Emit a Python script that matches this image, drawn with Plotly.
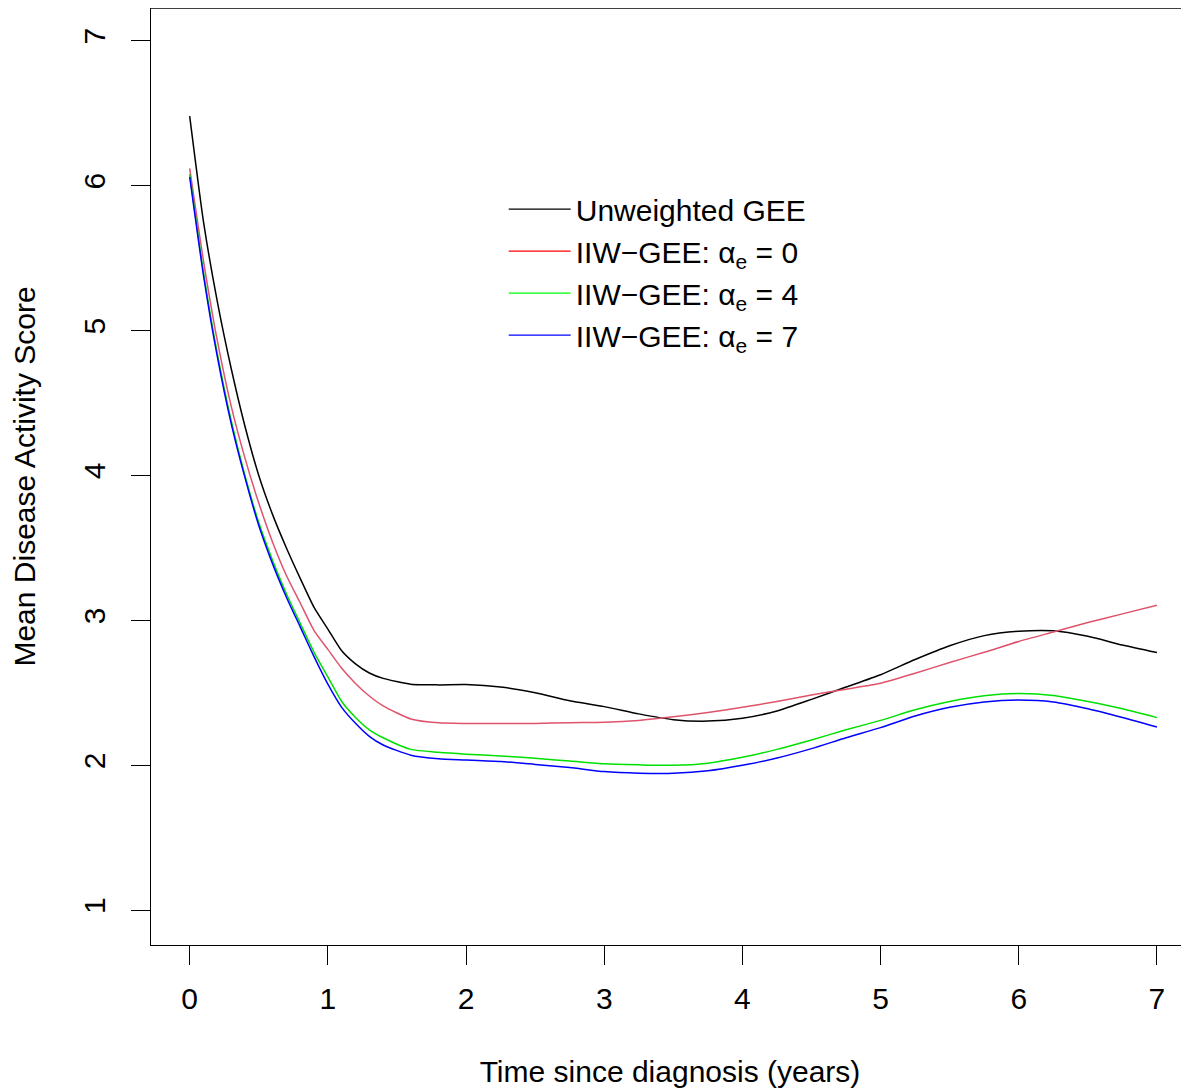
import plotly.graph_objects as go

# ---- data ----
time_years = [0, 0.1, 0.2, 0.3, 0.4, 0.5, 0.6, 0.7, 0.8, 0.9, 1.0, 1.1, 1.2, 1.3, 1.4, 1.6, 1.8,
              2.0, 2.25, 2.5, 2.75, 3.0, 3.25, 3.5, 3.75, 4.0, 4.25, 4.5, 4.75,
              5.0, 5.25, 5.5, 5.75, 6.0, 6.25, 6.5, 6.75, 7.0]

unweighted_gee = [6.48, 5.75, 5.20, 4.74, 4.34, 4.00, 3.73, 3.50, 3.29, 3.09, 2.94, 2.79, 2.70, 2.637, 2.60, 2.56, 2.555,
                  2.557, 2.54, 2.50, 2.445, 2.405, 2.355, 2.315, 2.305, 2.325, 2.375, 2.455, 2.54,
                  2.625, 2.73, 2.825, 2.895, 2.925, 2.928, 2.89, 2.83, 2.778]

iiw_alpha0 = [6.12, 5.48, 4.93, 4.48, 4.12, 3.81, 3.54, 3.31, 3.12, 2.93, 2.80, 2.67, 2.565, 2.478, 2.41, 2.32, 2.293,
              2.289, 2.289, 2.289, 2.294, 2.297, 2.31, 2.335, 2.365, 2.40, 2.44, 2.485, 2.525,
              2.566, 2.635, 2.71, 2.78, 2.855, 2.92, 2.985, 3.045, 3.104]

iiw_alpha4 = [6.08, 5.40, 4.84, 4.38, 4.00, 3.675, 3.414, 3.184, 2.98, 2.78, 2.61, 2.44, 2.33, 2.245, 2.19, 2.11, 2.09,
              2.077, 2.065, 2.048, 2.03, 2.01, 2.003, 2.0, 2.015, 2.055, 2.11, 2.175, 2.245,
              2.31, 2.383, 2.44, 2.48, 2.495, 2.482, 2.44, 2.39, 2.329]

iiw_alpha7 = [6.06, 5.38, 4.82, 4.36, 3.985, 3.655, 3.39, 3.16, 2.955, 2.75, 2.56, 2.40, 2.29, 2.20, 2.14, 2.07, 2.045,
              2.037, 2.026, 2.006, 1.985, 1.957, 1.946, 1.945, 1.962, 2.0, 2.05, 2.115, 2.19,
              2.26, 2.34, 2.40, 2.437, 2.45, 2.437, 2.39, 2.33, 2.264]

series_names = ["Unweighted GEE",
                "IIW\u2212GEE: \u03b1<sub>e</sub> = 0",
                "IIW\u2212GEE: \u03b1<sub>e</sub> = 4",
                "IIW\u2212GEE: \u03b1<sub>e</sub> = 7"]
series_values = [unweighted_gee, iiw_alpha0, iiw_alpha4, iiw_alpha7]
curve_colors = ["#000000", "#DF536B", "#00E000", "#0000FF"]
legend_colors = ["#000000", "#FF0000", "#00FF00", "#0000FF"]

x_ticks = [0, 1, 2, 3, 4, 5, 6, 7]
y_ticks = [1, 2, 3, 4, 5, 6, 7]

FONT = "Liberation Sans, Arial, Helvetica, sans-serif"

fig = go.Figure()
for name, vals, col in zip(series_names, series_values, curve_colors):
    fig.add_trace(go.Scatter(x=time_years, y=vals, mode="lines", name=name,
                             line=dict(color=col, width=1.5, shape="spline", smoothing=0.6),
                             showlegend=False, hoverinfo="x+y"))
# legend entries
for name, col in zip(series_names, legend_colors):
    fig.add_trace(go.Scatter(x=[None], y=[None], mode="lines", name=name,
                             line=dict(color=col, width=1.2), showlegend=True))

fig.update_layout(
    width=1181, height=1080,
    margin=dict(l=143, r=0, t=0, b=143),
    paper_bgcolor="white", plot_bgcolor="white",
    font=dict(family=FONT, size=30, color="black"),
    showlegend=True,
    legend=dict(x=0.3398, y=0.8132, xanchor="left", yanchor="top",
                bgcolor="rgba(0,0,0,0)", borderwidth=0, itemwidth=62,
                font=dict(family=FONT, size=30, color="black"),
                tracegroupgap=0),
    xaxis=dict(range=[-0.28, 7.232], tickvals=x_ticks, ticktext=[str(v) for v in x_ticks],
               showgrid=False, zeroline=False, showline=True, linecolor="black", linewidth=1.3,
               ticks="outside", ticklen=19, tickwidth=1.2, tickcolor="black",
               ticklabelstandoff=8,
               title=dict(text="Time since diagnosis (years)", standoff=53,
                          font=dict(family=FONT, size=30))),
    yaxis=dict(range=[0.76, 7.226], tickvals=y_ticks, ticktext=[str(v) for v in y_ticks],
               showgrid=False, zeroline=False, showline=True, linecolor="black", linewidth=1.3,
               ticks="outside", ticklen=19, tickwidth=1.2, tickcolor="black",
               tickangle=-90, ticklabelstandoff=14,
               title=dict(text="Mean Disease Activity Score", standoff=42,
                          font=dict(family=FONT, size=30))),
)
# top border of the box (right side of the box is outside the picture)
fig.add_shape(type="line", xref="paper", yref="paper", x0=0, x1=1, y0=1, y1=1,
              line=dict(color="black", width=1.3))

fig.write_html("out.html")
